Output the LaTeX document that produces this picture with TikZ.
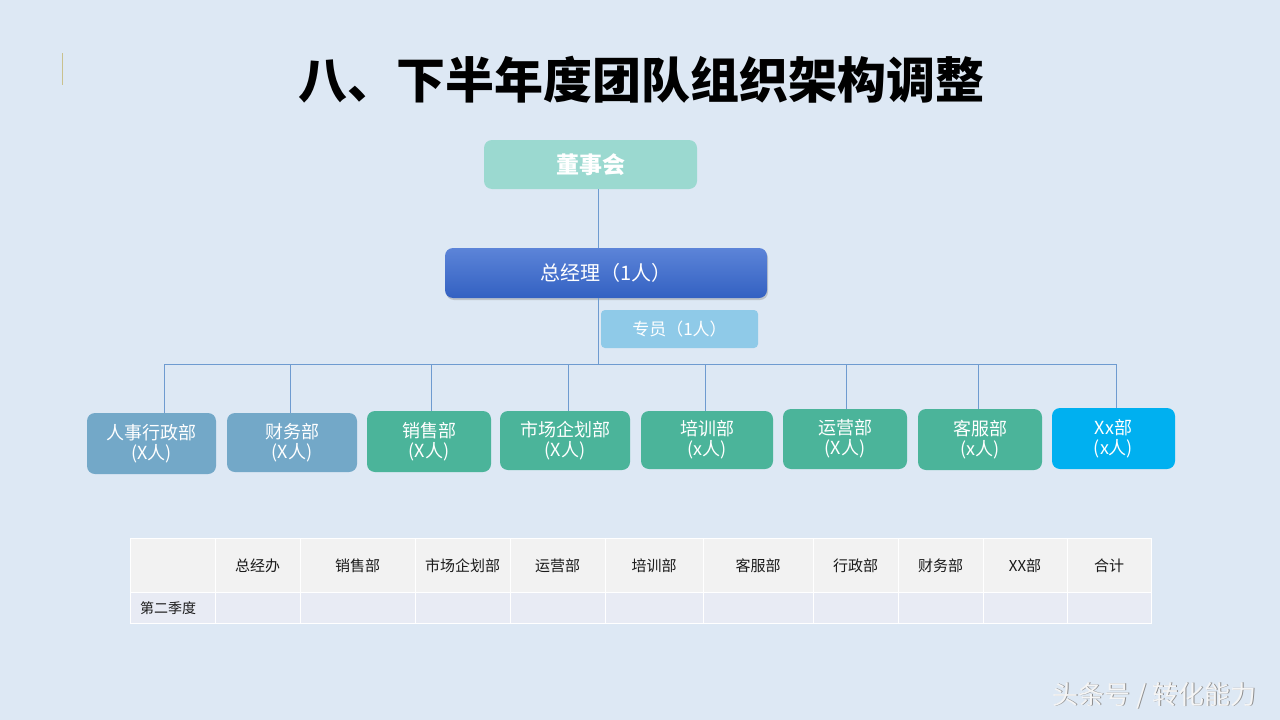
\documentclass[tikz,border=0pt]{standalone}
\usepackage{fontspec}
\setmainfont{Noto Sans CJK SC}
\usetikzlibrary{shadows}
\definecolor{bgc}{HTML}{DDE8F4}
\definecolor{boardc}{HTML}{9BD9D0}
\definecolor{gmtop}{HTML}{5C84D8}
\definecolor{gmbot}{HTML}{3361C2}
\definecolor{staffc}{HTML}{8FCAE8}
\definecolor{deptblue}{HTML}{73A8C8}
\definecolor{deptgreen}{HTML}{4BB49A}
\definecolor{deptcyan}{HTML}{00B0F0}
\definecolor{linec}{HTML}{6E9BD0}
\definecolor{hdrc}{HTML}{F2F2F2}
\definecolor{rowc}{HTML}{E8EBF4}
\definecolor{txtc}{HTML}{1A1A1A}
\definecolor{markc}{HTML}{C9C18E}
\tikzset{
  conn/.style={draw=linec, line width=0.9pt},
  box/.style={rounded corners=8pt, text=white, inner sep=0pt, align=center},
  dept/.style={box, font=\fontsize{18}{20}\selectfont},
  cell/.style={text=txtc, font=\fontsize{15}{15}\selectfont, inner sep=0pt},
}
\begin{document}
\begin{tikzpicture}[x=1pt,y=-1pt]
\useasboundingbox (0,0) rectangle (1280,720);
\fill[bgc] (0,0) rectangle (1280,720);
\draw[markc, line width=1pt] (62,53) -- (62,85);

\node[font=\fontsize{49}{49}\selectfont\bfseries, text=black] (title) at (641,80) {八、下半年度团队组织架构调整};

\node[box, fill=boardc, minimum width=213, minimum height=49, font=\fontsize{23}{23}\selectfont\bfseries] (board) at (590.5,164.5) {董事会};
\node[box, top color=gmtop, bottom color=gmbot, minimum width=322, minimum height=50, font=\fontsize{20}{20}\selectfont, drop shadow={shadow xshift=1pt, shadow yshift=-2pt, opacity=0.35}] (gm) at (606,273) {总经理（1人）};
\node[box, fill=staffc, rounded corners=4pt, minimum width=157, minimum height=38, font=\fontsize{17}{17}\selectfont] (staff) at (679.5,329) {专员（1人）};

\coordinate (v) at (598,364);
\draw[conn] (v |- board.south) -- (v |- gm.north);
\draw[conn] (v |- gm.south) -- (v);

\node[dept, fill=deptblue, minimum width=129, minimum height=61] (n1) at (151.5,443.5) {人事行政部\\(X人)};
\node[dept, fill=deptblue, minimum width=130, minimum height=59] (n2) at (292,442.5) {财务部\\(X人)};
\node[dept, fill=deptgreen, minimum width=124, minimum height=61] (n3) at (429,441.5) {销售部\\(X人)};
\node[dept, fill=deptgreen, minimum width=130, minimum height=59] (n4) at (565,440.5) {市场企划部\\(X人)};
\node[dept, fill=deptgreen, minimum width=132, minimum height=58] (n5) at (707,440) {培训部\\(x人)};
\node[dept, fill=deptgreen, minimum width=124, minimum height=60] (n6) at (845,439) {运营部\\(X人)};
\node[dept, fill=deptgreen, minimum width=124, minimum height=61] (n7) at (980,439.5) {客服部\\(x人)};
\node[dept, fill=deptcyan, minimum width=123, minimum height=61] (n8) at (1113.5,438.5) {Xx部\\(x人)};

\coordinate (b1) at (164,364);
\coordinate (b2) at (290,364);
\coordinate (b3) at (431,364);
\coordinate (b4) at (568,364);
\coordinate (b5) at (705,364);
\coordinate (b6) at (846,364);
\coordinate (b7) at (978,364);
\coordinate (b8) at (1116,364);
\draw[conn] (b1) -- (b8);
\foreach \i in {1,...,8} {\draw[conn] (b\i) -- (b\i |- n\i.north);}

% table
\fill[hdrc] (130,538) rectangle (1151,592);
\fill[rowc] (130,592) rectangle (1151,623);
\draw[white, line width=1pt] (130,538) rectangle (1151,623);
\draw[white, line width=1pt] (130,592) -- (1151,592);
\foreach \x in {215,300,415,510,605,703,813,898,983,1067} {\draw[white, line width=1pt] (\x,538) -- (\x,623);}
\node[cell] (h1) at (257.5,566) {总经办};
\node[cell] (h2) at (357.5,566) {销售部};
\node[cell] (h3) at (462.5,566) {市场企划部};
\node[cell] (h4) at (557.5,566) {运营部};
\node[cell] (h5) at (654,566) {培训部};
\node[cell] (h6) at (758,566) {客服部};
\node[cell] (h7) at (855.5,566) {行政部};
\node[cell] (h8) at (940.5,566) {财务部};
\node[cell] (h9) at (1025,566) {XX部};
\node[cell] (h10) at (1109,566) {合计};
\node[cell, font=\fontsize{14}{14}\selectfont, anchor=west] (r1) at (140,608) {第二季度};

\node[font=\fontsize{26}{26}\selectfont, text=black!45] (wms) at (1155.3,696.3) {头条号 / 转化能力};
\node[font=\fontsize{26}{26}\selectfont, text=white!96!black] (wm) at (1154.5,695.5) {头条号 / 转化能力};
\end{tikzpicture}
\end{document}
